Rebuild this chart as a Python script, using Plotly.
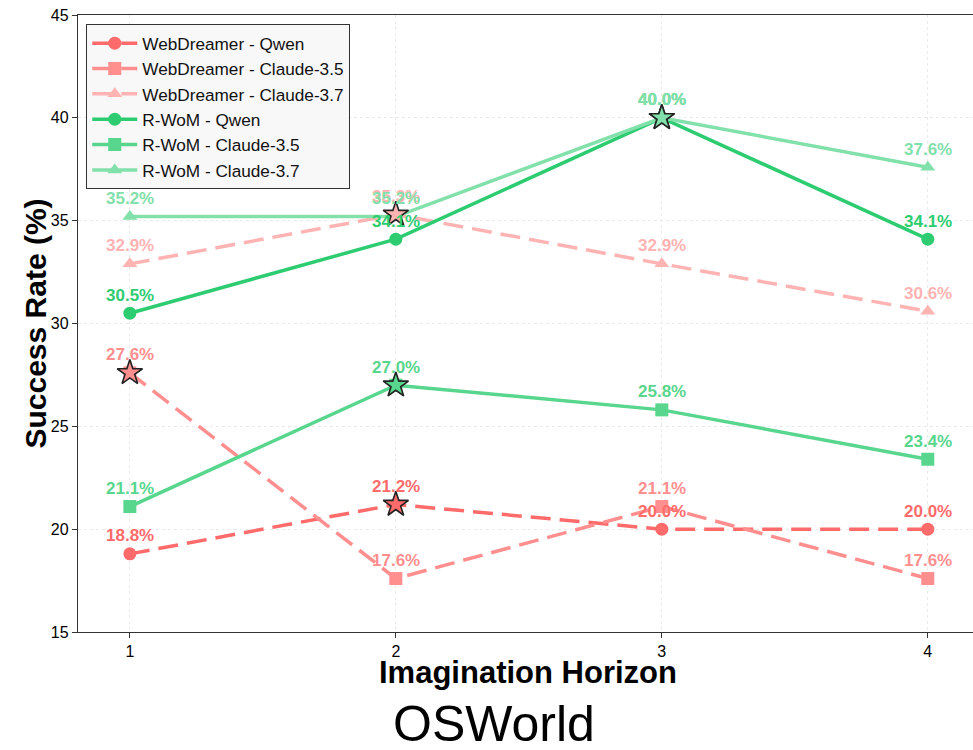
import plotly.graph_objects as go

horizons = [1, 2, 3, 4]
series_names = ["WebDreamer - Qwen", "WebDreamer - Claude-3.5", "WebDreamer - Claude-3.7",
                "R-WoM - Qwen", "R-WoM - Claude-3.5", "R-WoM - Claude-3.7"]
wd_qwen = [18.8, 21.2, 20.0, 20.0]
wd_c35 = [27.6, 17.6, 21.1, 17.6]
wd_c37 = [32.9, 35.3, 32.9, 30.6]
rw_qwen = [30.5, 34.1, 40.0, 34.1]
rw_c35 = [21.1, 27.0, 25.8, 23.4]
rw_c37 = [35.2, 35.2, 40.0, 37.6]
y_ticks = [15, 20, 25, 30, 35, 40, 45]

values = [wd_qwen, wd_c35, wd_c37, rw_qwen, rw_c35, rw_c37]
colors = ["#FF6B6B", "#FF8F8F", "#FFB3B3", "#2ECC71", "#58D68D", "#82E0AA"]
symbols = ["circle", "square", "triangle-up", "circle", "square", "triangle-up"]
dashes = ["20px,9px"] * 3 + ["solid"] * 3
FONT = "Liberation Sans, Arial, sans-serif"

fig = go.Figure()
for name, vals, c, s, d in zip(series_names, values, colors, symbols, dashes):
    fig.add_trace(go.Scatter(
        x=horizons, y=vals, name=name, mode="lines+markers",
        line=dict(color=c, width=3.5, dash=d),
        marker=dict(symbol=s, size=13, color=c),
    ))
for name, vals, c in zip(series_names, values, colors):
    best = max(range(len(vals)), key=lambda i: vals[i])
    fig.add_trace(go.Scatter(
        x=[horizons[best]], y=[vals[best]], mode="markers", showlegend=False,
        marker=dict(symbol="star", size=19, color=c, line=dict(color="#222222", width=1.6)),
    ))
for name, vals, c in zip(series_names, values, colors):
    for xv, v in zip(horizons, vals):
        fig.add_annotation(x=xv, y=v, text=f"<b>{v:.1f}%</b>", showarrow=False,
                           yshift=18, xanchor="center", yanchor="middle",
                           font=dict(family=FONT, size=17, color=c))

fig.add_annotation(text="<b>Imagination Horizon</b>", xref="paper", yref="paper",
                   x=0.503, y=-0.066, xanchor="center", yanchor="middle", showarrow=False,
                   font=dict(family=FONT, size=31, color="black"))
fig.add_annotation(text="<b>Success Rate (%)</b>", xref="paper", yref="paper",
                   x=-0.048, y=0.5, xanchor="center", yanchor="middle", showarrow=False,
                   textangle=-90, font=dict(family=FONT, size=30, color="black"))
fig.add_annotation(text="OSWorld", xref="paper", yref="paper", x=0.465, y=-0.149,
                   xanchor="center", yanchor="middle", showarrow=False,
                   font=dict(family=FONT, size=50, color="black"))

fig.update_layout(
    width=973, height=750,
    margin=dict(l=78, r=0, t=15, b=118, autoexpand=False),
    plot_bgcolor="white", paper_bgcolor="white",
    font=dict(family=FONT, color="black"),
    legend=dict(x=0.009, y=0.985, xanchor="left", yanchor="top",
                bgcolor="#F8F8F8", bordercolor="#333333", borderwidth=1.2,
                font=dict(family=FONT, size=17.2, color="#111111"),
                itemwidth=45, tracegroupgap=0),
    xaxis=dict(range=[0.805, 4.17], tickvals=horizons, ticks="outside", ticklen=5,
               tickcolor="#333", tickfont=dict(size=16), automargin=False,
               showline=True, linecolor="#333333", linewidth=1.3, mirror=True,
               showgrid=True, gridcolor="#EBEBEB", griddash="dot", gridwidth=1, zeroline=False),
    yaxis=dict(range=[15, 45], tickvals=y_ticks, ticks="outside", ticklen=5,
               tickcolor="#333", tickfont=dict(size=16), automargin=False,
               showline=True, linecolor="#333333", linewidth=1.3,
               showgrid=True, gridcolor="#EBEBEB", griddash="dot", gridwidth=1, zeroline=False),
)

fig.write_html("out.html", config={"displayModeBar": False},
               post_script="document.body.style.margin='0px';document.body.style.overflow='hidden';")
